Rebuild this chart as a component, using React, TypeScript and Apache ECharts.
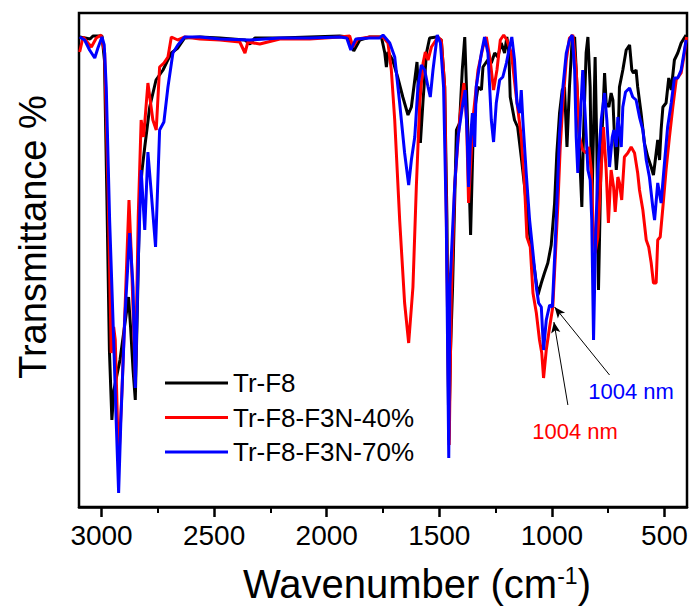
import React, { useEffect, useRef } from "react";
import * as echarts from "echarts";

const FONT = "'Liberation Sans', Arial, sans-serif";

const seriesNames = ["Tr-F8", "Tr-F8-F3N-40%", "Tr-F8-F3N-70%"];
const seriesColors = ["#000000", "#ff0000", "#0000ff"];
const majorTicks = [500, 1000, 1500, 2000, 2500, 3000];
const minorTicks = [750, 1250, 1750, 2250, 2750];

// Tr-F8 (black): wavenumber (cm-1) and transmittance (arbitrary units)
const wnTrF8 = [
  3097, 3073, 3051, 3038, 2998, 2987, 2976, 2965, 2954, 2945,
  2918, 2880, 2871, 2860, 2850, 2840, 2831, 2820, 2808, 2786,
  2758, 2727, 2710, 2690, 2661, 2631, 2563, 2474, 2363, 2341,
  2319, 2208, 2075, 1942, 1907, 1880, 1853, 1809, 1757, 1742,
  1735, 1728, 1707, 1685, 1662, 1639, 1624, 1609, 1599, 1590,
  1584, 1572, 1557, 1543, 1513, 1491, 1476, 1466, 1458, 1450,
  1441, 1424, 1410, 1398, 1387, 1377, 1361, 1351, 1343, 1328,
  1313, 1306, 1285, 1269, 1254, 1240, 1225, 1210, 1200, 1191,
  1185, 1166, 1152, 1136, 1121, 1107, 1092, 1077, 1062, 1047,
  1033, 1018, 1003, 988, 978, 966, 954, 944, 933, 922,
  910, 899, 885, 874, 867, 860, 848, 840, 830, 823,
  814, 808, 800, 793, 781, 766, 759, 747, 737, 729,
  722, 714, 707, 700, 685, 670, 655, 645, 638, 626,
  619, 604, 589, 574, 559, 549, 537, 530, 522, 515,
  507, 493, 481, 470, 456, 441, 426, 404,
];
const tTrF8 = [
  470, 469, 468, 471, 471, 447, 307, 157, 87, 117,
  147, 210, 180, 137, 107, 207, 304, 337, 360, 400,
  427, 437, 445, 454, 459, 469, 470, 469, 467, 463,
  469, 469, 470, 471, 470, 456, 467, 470, 470, 454,
  440, 455, 447, 430, 410, 392, 400, 427, 445, 404,
  364, 407, 454, 469, 470, 467, 420, 287, 67, 157,
  220, 377, 384, 437, 470, 404, 272, 360, 397, 420,
  417, 440, 447, 444, 454, 450, 464, 454, 470, 454,
  410, 387, 380, 350, 320, 287, 260, 237, 212, 224,
  234, 244, 262, 304, 354, 394, 417, 420, 360, 420,
  467, 470, 404, 337, 300, 370, 454, 470, 420, 294,
  387, 450, 354, 217, 354, 434, 404, 400, 414, 407,
  370, 337, 357, 420, 437, 457, 462, 437, 434, 437,
  420, 394, 364, 350, 340, 332, 354, 367, 347, 377,
  400, 404, 429, 417, 447, 454, 464, 472,
];

// Tr-F8-F3N-40% (red)
const wnF3N40 = [
  3097, 3082, 3060, 3045, 3023, 3002, 2986, 2971, 2957, 2946,
  2939, 2924, 2909, 2891, 2878, 2868, 2850, 2837, 2824, 2813,
  2794, 2772, 2757, 2742, 2723, 2705, 2690, 2661, 2630, 2563,
  2474, 2386, 2363, 2350, 2297, 2208, 2075, 1942, 1898, 1884,
  1862, 1809, 1750, 1728, 1713, 1698, 1676, 1654, 1636, 1617,
  1602, 1587, 1572, 1562, 1550, 1535, 1506, 1491, 1476, 1456,
  1447, 1432, 1410, 1391, 1379, 1370, 1358, 1351, 1328, 1306,
  1291, 1274, 1259, 1244, 1229, 1214, 1200, 1180, 1158, 1136,
  1121, 1111, 1096, 1084, 1069, 1055, 1045, 1037, 1025, 1010,
  996, 984, 973, 963, 951, 936, 922, 907, 892, 877,
  863, 848, 836, 825, 818, 808, 796, 785, 771, 759,
  749, 737, 726, 719, 707, 700, 690, 678, 663, 648,
  633, 619, 611, 596, 581, 570, 559, 549, 537, 530,
  519, 507, 493, 478, 463, 448, 426, 411, 402,
];
const tF3N40 = [
  455, 470, 464, 460, 469, 472, 454, 320, 154, 180,
  167, 42, 117, 227, 307, 254, 127, 290, 387, 370,
  424, 387, 377, 440, 444, 450, 470, 467, 470, 468,
  467, 465, 454, 465, 463, 468, 468, 470, 471, 460,
  468, 470, 470, 464, 437, 387, 287, 204, 164, 220,
  320, 404, 444, 455, 447, 460, 470, 467, 420, 62,
  207, 320, 387, 424, 387, 304, 354, 387, 437, 460,
  470, 447, 417, 437, 467, 472, 467, 454, 410, 370,
  320, 270, 260, 214, 194, 167, 154, 129, 157, 180,
  200, 254, 304, 360, 404, 447, 469, 472, 437, 370,
  357, 354, 360, 337, 287, 254, 270, 320, 380, 337,
  284, 337, 320, 295, 330, 324, 307, 350, 354, 360,
  354, 334, 317, 297, 267, 260, 244, 224, 224, 267,
  270, 300, 337, 370, 400, 427, 434, 454, 470,
];

// Tr-F8-F3N-70% (blue)
const wnF3N70 = [
  3097, 3075, 3053, 3030, 3016, 2998, 2988, 2979, 2964, 2949,
  2935, 2924, 2914, 2897, 2875, 2860, 2850, 2838, 2824, 2808,
  2794, 2779, 2760, 2742, 2723, 2705, 2683, 2661, 2631, 2563,
  2474, 2341, 2208, 2075, 1942, 1911, 1893, 1871, 1809, 1765,
  1750, 1720, 1698, 1676, 1654, 1636, 1624, 1609, 1595, 1580,
  1565, 1550, 1540, 1528, 1509, 1495, 1481, 1469, 1458, 1453,
  1432, 1417, 1395, 1385, 1376, 1370, 1361, 1353, 1343, 1336,
  1313, 1299, 1284, 1269, 1259, 1247, 1232, 1218, 1202, 1188,
  1178, 1166, 1155, 1143, 1136, 1129, 1114, 1099, 1084, 1069,
  1059, 1047, 1037, 1025, 1010, 998, 987, 978, 966, 951,
  936, 922, 910, 899, 892, 885, 874, 863, 851, 840,
  830, 823, 815, 806, 796, 781, 766, 756, 744, 732,
  725, 714, 707, 692, 685, 673, 655, 641, 626, 611,
  596, 581, 567, 552, 544, 530, 515, 500, 486, 470,
  456, 441, 426, 404,
];
const tF3N70 = [
  470, 467, 457, 449, 459, 470, 462, 420, 287, 187,
  87, 14, 87, 187, 274, 220, 119, 237, 337, 277,
  355, 314, 260, 377, 385, 420, 454, 462, 470, 470,
  468, 467, 469, 469, 470, 469, 457, 468, 469, 469,
  472, 464, 450, 404, 354, 322, 347, 370, 420, 442,
  437, 420, 410, 437, 472, 464, 420, 287, 49, 220,
  320, 370, 404, 417, 370, 320, 370, 394, 360, 420,
  454, 470, 454, 387, 365, 404, 427, 430, 444, 460,
  470, 447, 404, 394, 417, 387, 334, 287, 254, 220,
  204, 200, 157, 187, 202, 200, 254, 304, 374, 420,
  454, 467, 472, 437, 370, 334, 387, 437, 387, 337,
  327, 287, 167, 270, 337, 387, 414, 387, 340, 370,
  377, 360, 390, 360, 400, 415, 419, 410, 407, 390,
  377, 347, 330, 300, 287, 324, 304, 344, 380, 404,
  429, 429, 437, 467,
];

// Annotation arrows (data coordinates: [wavenumber, transmittance])
const arrowBlueFrom = [744, 132];
const arrowBlueTo = [988, 200];
const arrowRedFrom = [929, 102];
const arrowRedTo = [991, 185];
const annotationText = "1004 nm";

const pair = (xs: number[], ys: number[]) => xs.map((x, i) => [x, ys[i]]);

export default function App() {
  const ref = useRef<HTMLDivElement>(null);

  useEffect(() => {
    if (!ref.current) return;
    const chart = echarts.init(ref.current, null, { renderer: "svg" });
    const datasets = [pair(wnTrF8, tTrF8), pair(wnF3N40, tF3N40), pair(wnF3N70, tF3N70)];

    const series: any[] = datasets.map((d, i) => ({
      name: seriesNames[i],
      type: "line",
      data: d,
      showSymbol: false,
      symbol: "none",
      lineStyle: { color: seriesColors[i], width: 3 },
      itemStyle: { color: seriesColors[i] },
      z: 2 + i,
    }));
    series[2].markLine = {
      silent: true,
      symbol: ["none", "arrow"],
      symbolSize: [7, 11],
      lineStyle: { color: "#000", width: 1, type: "solid" },
      label: { show: false },
      emphasis: { disabled: true },
      data: [
        [{ coord: arrowBlueFrom }, { coord: arrowBlueTo }],
        [{ coord: arrowRedFrom }, { coord: arrowRedTo }],
      ],
    };

    chart.setOption({
      animation: false,
      backgroundColor: "#fff",
      textStyle: { fontFamily: FONT },
      grid: {
        left: 79,
        top: 13,
        width: 608,
        height: 494,
        show: true,
        borderColor: "#000",
        borderWidth: 2.5,
        containLabel: false,
      },
      legend: {
        data: seriesNames,
        orient: "vertical",
        left: 160,
        top: 365,
        icon: "rect",
        itemWidth: 63,
        itemHeight: 3,
        itemGap: 8.5,
        textStyle: { fontSize: 26, color: "#000", fontFamily: FONT, lineHeight: 26 },
        selectedMode: false,
      },
      xAxis: [
        {
          type: "value",
          min: 400,
          max: 3100,
          inverse: true,
          position: "bottom",
          axisLine: { show: true, lineStyle: { color: "#000", width: 2.5 } },
          axisTick: {
            show: true,
            customValues: majorTicks,
            length: 10,
            lineStyle: { color: "#000", width: 2.5 },
          },
          axisLabel: {
            customValues: majorTicks,
            formatter: (v: number) => String(v),
            fontSize: 28,
            color: "#000",
            margin: 14,
            fontFamily: FONT,
          },
          splitLine: { show: false },
        },
        {
          type: "value",
          min: 400,
          max: 3100,
          inverse: true,
          position: "bottom",
          axisLine: { show: false },
          axisTick: {
            show: true,
            customValues: minorTicks,
            length: 6,
            lineStyle: { color: "#000", width: 2 },
          },
          axisLabel: { show: false },
          splitLine: { show: false },
        },
      ],
      yAxis: {
        type: "value",
        min: 0,
        max: 494,
        axisLine: { show: false },
        axisTick: { show: false },
        axisLabel: { show: false },
        splitLine: { show: false },
      },
      series,
      graphic: [
        {
          type: "text",
          x: 33,
          y: 237,
          rotation: Math.PI / 2,
          style: {
            text: "Transmittance %",
            fontSize: 38,
            fontFamily: FONT,
            fill: "#000",
            align: "center",
            verticalAlign: "middle",
          },
        },
        {
          type: "text",
          x: 417,
          y: 584,
          style: {
            text: "{a|Wavenumber (cm}{b|-1}{a|)}",
            fontFamily: FONT,
            fill: "#000",
            align: "center",
            verticalAlign: "middle",
            rich: {
              a: { fontSize: 40, fontFamily: FONT, fill: "#000" },
              b: { fontSize: 23, fontFamily: FONT, fill: "#000", verticalAlign: "top" },
            },
          },
        },
        {
          type: "text",
          x: 631,
          y: 391,
          style: {
            text: annotationText,
            fontSize: 22,
            fontFamily: FONT,
            fill: "#0000ff",
            align: "center",
            verticalAlign: "middle",
          },
        },
        {
          type: "text",
          x: 575,
          y: 431,
          style: {
            text: annotationText,
            fontSize: 22,
            fontFamily: FONT,
            fill: "#ff0000",
            align: "center",
            verticalAlign: "middle",
          },
        },
      ],
    });

    return () => chart.dispose();
  }, []);

  return (
    <div
      ref={ref}
      style={{ position: "fixed", left: 0, top: 0, width: 694, height: 608, background: "#fff" }}
    />
  );
}
